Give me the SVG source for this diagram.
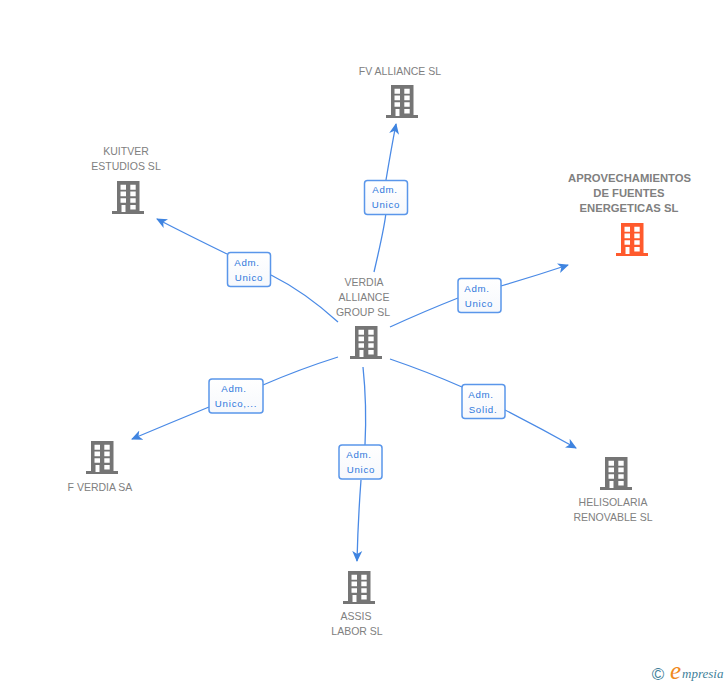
<svg xmlns="http://www.w3.org/2000/svg" width="728" height="685" viewBox="0 0 728 685">
<style>
.t{font-family:"Liberation Sans",Arial,sans-serif;font-size:10.500px;fill:#808080;text-anchor:middle}
.b{font-weight:bold;font-size:11.250px}
.l{font-family:"Liberation Sans",Arial,sans-serif;font-size:9.700px;letter-spacing:.75px;fill:#2f78dc;text-anchor:middle}
.c{fill:none;stroke:#4a8ae6;stroke-width:1.300}
.box{fill:url(#g);stroke:#5a96ea;stroke-width:1.500}
</style>
<defs>
<linearGradient id="g" x1="0" y1="0" x2="0" y2="1"><stop offset="0" stop-color="#fff"/><stop offset="1" stop-color="#f6f8fc"/></linearGradient>
<marker id="a" viewBox="0 0 11 11" refX="10" refY="5.500" markerWidth="11" markerHeight="11" markerUnits="userSpaceOnUse" orient="auto"><path d="M0 0.500L11 5.500L0 10.500L3 5.500Z" fill="#3f84e0"/></marker>
<path id="bld" fill-rule="evenodd" d="M-11 0H11.500V30H16V33H-16V30H-11ZM-7.500 3.800V8.800H-2V3.800ZM2.300 3.800V8.800H7.700V3.800ZM-7.500 10.500V15.200H-2V10.500ZM2.300 10.500V15.200H7.700V10.500ZM-7.500 17.200V21.800H-2V17.200ZM2.300 17.200V21.800H7.700V17.200ZM-6.500 24V31H-2.500V24ZM2.300 24V28.500H7.700V24Z"/>
</defs>
<g id="connectors">
<path class="c" d="M374 272Q385 225 386 212"/>
<path class="c" marker-end="url(#a)" d="M386 180Q391 150 396 124"/>
<path class="c" d="M338 322Q305 292 271 275"/>
<path class="c" marker-end="url(#a)" d="M227 254Q190 236 157 219"/>
<path class="c" d="M390 327Q425 311 458 298"/>
<path class="c" marker-end="url(#a)" d="M501 286Q535 276 568 265"/>
<path class="c" d="M338 357Q300 369 263 385"/>
<path class="c" marker-end="url(#a)" d="M209 407Q170 423 132 439"/>
<path class="c" d="M390 359Q428 372 462 387"/>
<path class="c" marker-end="url(#a)" d="M505 410Q540 428 576 448"/>
<path class="c" d="M363 367Q367 405 365 445"/>
<path class="c" marker-end="url(#a)" d="M361 480Q358 520 357 561"/>
</g>
<g id="label-fv"><rect class="box" x="364.500" y="180.500" width="43" height="34" rx="3"/><text class="l" x="385" y="193">Adm.</text><text class="l" x="386" y="208">Unico</text></g>
<g id="label-kuitver"><rect class="box" x="227.500" y="252.500" width="43" height="34" rx="3"/><text class="l" x="247" y="266">Adm.</text><text class="l" x="249" y="281">Unico</text></g>
<g id="label-aprov"><rect class="box" x="458" y="278.500" width="43" height="34" rx="3"/><text class="l" x="477" y="292">Adm.</text><text class="l" x="479" y="307">Unico</text></g>
<g id="label-fverdia"><rect class="box" x="209" y="379" width="54" height="34" rx="3"/><text class="l" x="234" y="392">Adm.</text><text class="l" x="236" y="407">Unico,...</text></g>
<g id="label-helisolaria"><rect class="box" x="462" y="384.500" width="43" height="34" rx="3"/><text class="l" x="481" y="398">Adm.</text><text class="l" x="483" y="413">Solid.</text></g>
<g id="label-assis"><rect class="box" x="339" y="445" width="43" height="34" rx="3"/><text class="l" x="359" y="458">Adm.</text><text class="l" x="361" y="473">Unico</text></g>
<g id="node-verdia"><text class="t" x="364" y="286">VERDIA</text><text class="t" x="364" y="301">ALLIANCE</text><text class="t" x="363" y="316">GROUP SL</text><use href="#bld" x="366" y="326" fill="#757575"/></g>
<g id="node-fv"><text class="t" x="400" y="75">FV ALLIANCE SL</text><use href="#bld" x="402" y="85" fill="#757575"/></g>
<g id="node-kuitver"><text class="t" x="126" y="155">KUITVER</text><text class="t" x="126" y="170">ESTUDIOS SL</text><use href="#bld" x="128" y="181" fill="#757575"/></g>
<g id="node-aprov"><text class="t b" x="629.500" y="182">APROVECHAMIENTOS</text><text class="t b" x="629" y="197">DE FUENTES</text><text class="t b" x="629" y="212">ENERGETICAS SL</text><use href="#bld" x="632" y="223" fill="#ff5a2d"/></g>
<g id="node-fverdia"><use href="#bld" x="102" y="441" fill="#757575"/><text class="t" x="100" y="491">F VERDIA SA</text></g>
<g id="node-helisolaria"><use href="#bld" x="616" y="457" fill="#757575"/><text class="t" x="613" y="506">HELISOLARIA</text><text class="t" x="613" y="521">RENOVABLE SL</text></g>
<g id="node-assis"><use href="#bld" x="359" y="571" fill="#757575"/><text class="t" x="356" y="620">ASSIS</text><text class="t" x="357" y="635">LABOR SL</text></g>
<g id="logo"><text x="658" y="680" text-anchor="middle" font-family="Liberation Sans,sans-serif" font-size="17" fill="#3f7f9a">©</text><text x="670" y="679" font-family="Liberation Serif,serif" font-style="italic" font-size="25" fill="#f08a1e">e</text><text x="682" y="678" font-family="Liberation Serif,serif" font-style="italic" font-size="13" fill="#3f7f9a">mpresia</text></g>
</svg>
